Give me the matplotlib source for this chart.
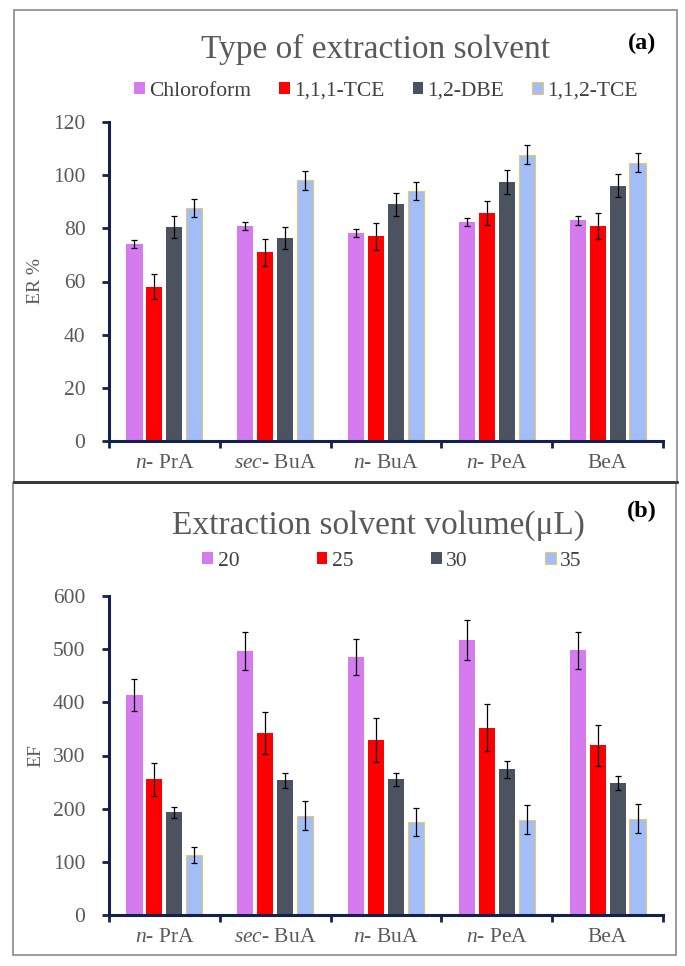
import matplotlib
matplotlib.use('Agg')
from matplotlib import pyplot as plt
from matplotlib.patches import Rectangle
from matplotlib.lines import Line2D
import numpy as np

plt.rc('font', family='Liberation Serif')
plt.rc('mathtext', fontset='custom', rm='Liberation Serif', it='Liberation Serif:italic')

# ---- data ----
analytes = [r'$\mathit{n}$- PrA', r'$\mathit{sec}$- BuA', r'$\mathit{n}$- BuA', r'$\mathit{n}$- PeA', 'BeA']

solvents = ['Chloroform', '1,1,1-TCE', '1,2-DBE', '1,1,2-TCE']
er_chloroform = [74.1, 80.8, 78.3, 82.3, 83.0]
er_tce111 = [58.1, 71.0, 77.0, 85.8, 80.8]
er_dbe = [80.4, 76.5, 89.0, 97.6, 96.1]
er_tce112 = [87.8, 98.0, 94.1, 107.7, 104.7]
er_chloroform_sd = [1.6, 1.6, 1.6, 1.6, 1.7]
er_tce111_sd = [4.8, 5.0, 5.0, 4.6, 5.0]
er_dbe_sd = [4.1, 4.1, 4.3, 4.5, 4.2]
er_tce112_sd = [3.4, 3.5, 3.5, 3.6, 3.5]

volumes = ['20', '25', '30', '35']
ef_20 = [414, 496, 486, 517, 498]
ef_25 = [255, 342, 329, 352, 319]
ef_30 = [193, 253, 255, 274, 249]
ef_35 = [112, 187, 175, 179, 181]
ef_20_sd = [30, 36, 34, 37, 35]
ef_25_sd = [31, 40, 41, 44, 39]
ef_30_sd = [11, 15, 13, 16, 13]
ef_35_sd = [15, 27, 27, 27, 27]

colors = ['#D67AF0', '#FF0000', '#4B5360', '#A3BDF6']
edges = ['none', 'none', 'none', '#E6C870']
grey = '#595959'
navy = '#12214F'

W, H = 685, 966
fig = plt.figure(figsize=(W / 100, H / 100), dpi=100)

def fx(px):
    return px / W

def fy(py):
    return 1 - py / H

# panel frames
fig.patches.append(Rectangle((fx(14), fy(482)), fx(677) - fx(14), fy(10) - fy(482),
                             transform=fig.transFigure, fill=False, ec='#8A8A8A', lw=1.2))
fig.patches.append(Rectangle((fx(13), fy(955)), fx(676) - fx(13), fy(483) - fy(955),
                             transform=fig.transFigure, fill=False, ec='#8A8A8A', lw=1.2))
fig.lines.append(Line2D([fx(14), fx(677)], [fy(482.5), fy(482.5)],
                        transform=fig.transFigure, color='#33333F', lw=2))


def draw_panel(ax, series, sds, ymax, ystep, ylabel):
    x = np.arange(len(analytes))
    width = 0.145
    step = 0.18
    bars = []
    for i, (vals, sd) in enumerate(zip(series, sds)):
        b = ax.bar(x + (i - 1.5) * step, vals, width, color=colors[i],
                   edgecolor=edges[i], linewidth=0.8 if edges[i] != 'none' else 0,
                   yerr=sd, capsize=2.5,
                   error_kw=dict(ecolor='black', elinewidth=0.9, capthick=0.9), zorder=2)
        bars.append(b)
    ax.set_xlim(-0.5, len(analytes) - 0.5)
    ax.set_ylim(0, ymax)
    ax.set_yticks(np.arange(0, ymax + 1, ystep))
    ax.set_xticks(np.arange(len(analytes) + 1) - 0.5)
    ax.set_xticklabels([])
    ax.set_xticks(x, minor=True)
    ax.set_xticklabels(analytes, minor=True)
    ax.tick_params(axis='x', which='major', direction='out', length=5, width=2, color=navy)
    ax.tick_params(axis='x', which='minor', length=0, pad=9, labelsize=15.5, labelcolor=grey)
    ax.tick_params(axis='y', direction='out', length=5, width=2, color=navy,
                   pad=12, labelsize=15.5, labelcolor=grey)
    for s in ['top', 'right']:
        ax.spines[s].set_visible(False)
    for s in ['left', 'bottom']:
        ax.spines[s].set_color(navy)
        ax.spines[s].set_linewidth(2.2)
    ax.set_ylabel(ylabel, fontsize=14, color=grey)
    ax.yaxis.set_label_coords(-0.117, 0.5)
    return bars


ax1 = fig.add_axes([fx(109), fy(441), fx(663) - fx(109), fy(122) - fy(441)])
bars1 = draw_panel(ax1, [er_chloroform, er_tce111, er_dbe, er_tce112],
                   [er_chloroform_sd, er_tce111_sd, er_dbe_sd, er_tce112_sd], 120, 20, 'ER %')

ax2 = fig.add_axes([fx(109), fy(915), fx(663) - fx(109), fy(596) - fy(915)])
bars2 = draw_panel(ax2, [ef_20, ef_25, ef_30, ef_35],
                   [ef_20_sd, ef_25_sd, ef_30_sd, ef_35_sd], 600, 100, 'EF')

fig.text(fx(376), fy(58), 'Type of extraction solvent', fontsize=24, color=grey,
         ha='center', va='baseline')
fig.text(fx(642), fy(49), '(a)', fontsize=17.5, fontweight='bold', ha='center', va='baseline')
fig.text(fx(378), fy(534), 'Extraction solvent volume(\u03bcL)', fontsize=24, color=grey,
         ha='center', va='baseline')
fig.text(fx(642), fy(517), '(b)', fontsize=17.5, fontweight='bold', ha='center', va='baseline')

leg1 = fig.legend(bars1, solvents, loc='center', bbox_to_anchor=(fx(386), fy(91)), ncol=4,
                  frameon=False, fontsize=15.5, handlelength=0.5, handleheight=0.5,
                  handletextpad=0.2, columnspacing=1.3, labelcolor='#404040')
leg2 = fig.legend(bars2, volumes, loc='center', bbox_to_anchor=(fx(392), fy(561)), ncol=4,
                  frameon=False, fontsize=15.5, handlelength=0.5, handleheight=0.5,
                  handletextpad=0.2, columnspacing=3.6, labelcolor='#404040')

fig.savefig('out.png', dpi=100)
